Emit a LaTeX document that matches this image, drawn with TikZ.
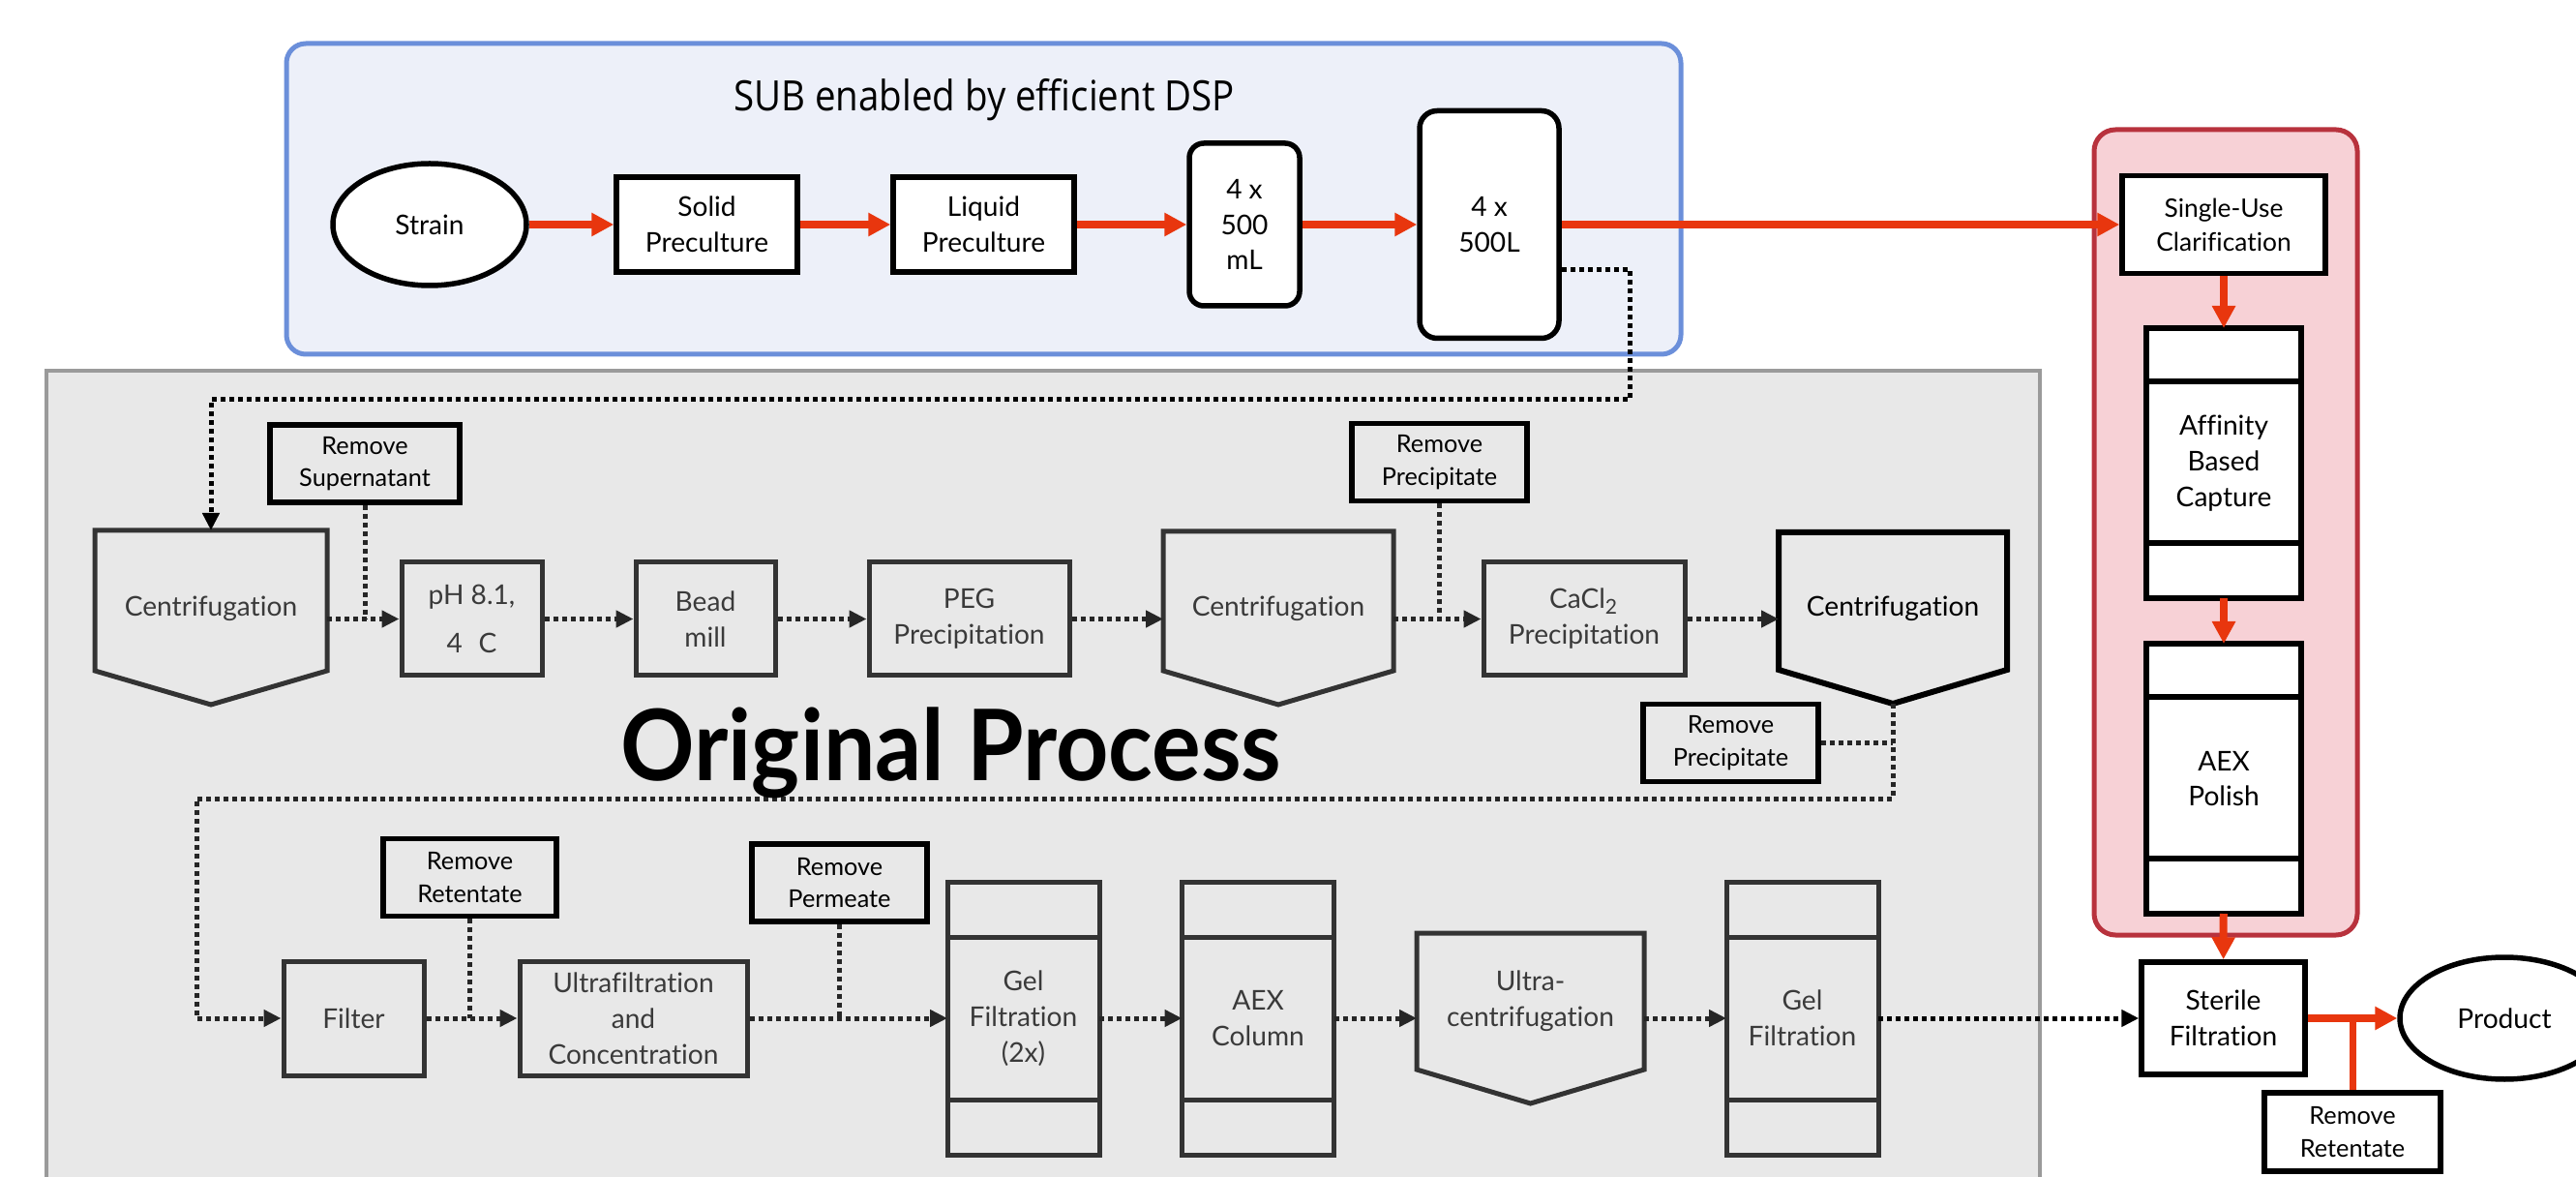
\documentclass[tikz,border=0pt]{standalone}
\usepackage{fontspec}
\setmainfont{Lato}[Ligatures=NoCommon]
\newfontfamily\headfont[FakeStretch=0.89]{Open Sans}
\newfontfamily\bannerfont[FakeStretch=0.93, Ligatures=NoCommon]{Lato}
\usepackage{tikz}
\usetikzlibrary{shapes.geometric, arrows.meta, calc}
\usepackage{xcolor}
\definecolor{SubBlue}{HTML}{6B8FDA}
\definecolor{SubFill}{HTML}{EDF0F9}
\definecolor{PolishRed}{HTML}{B8323D}
\definecolor{PolishFill}{HTML}{F7D1D6}
\definecolor{ProcGray}{HTML}{9A9A9A}
\definecolor{ProcFill}{HTML}{E8E8E8}
\definecolor{ProcLine}{HTML}{333333}
\definecolor{ProcText}{HTML}{3A3A3A}
\definecolor{DotLine}{HTML}{262626}
\definecolor{FlowRed}{HTML}{E8360E}

% pointed centrifuge outline drawn round a plain node
\newcommand{\chevronoutline}[2]{%
    \draw[#1, line join=miter] (#2.north west) -- (#2.north east) -- (#2.south east)
        -- ([yshift=-0.35cm]#2.south) coordinate (#2-tip) -- (#2.south west) -- cycle;}

\tikzset{
    % Zones
    subzone/.style={
        draw=SubBlue,
        fill=SubFill,
        line width=0.05cm,
        rounded corners=0.2cm
    },
    origzone/.style={
        draw=ProcGray,
        fill=ProcFill,
        line width=0.045cm
    },
    polishzone/.style={
        draw=PolishRed,
        fill=PolishFill,
        line width=0.05cm,
        rounded corners=0.22cm
    },
    % Box styles
    subbox/.style={
        rectangle,
        draw=black,
        fill=white,
        line width=0.055cm,
        inner sep=0pt,
        align=center,
        font=\fontsize{8}{10.5}\selectfont
    },
    bioreactor/.style={
        subbox,
        rounded corners=0.18cm
    },
    strainnode/.style={
        ellipse,
        draw=black,
        fill=white,
        line width=0.055cm,
        inner sep=0pt,
        minimum width=2cm,
        minimum height=1.26cm,
        font=\fontsize{8}{10.5}\selectfont
    },
    dspcolumn/.style={
        subbox,
        outer sep=0pt,
        minimum width=1.6cm,
        minimum height=2.79cm
    },
    procbox/.style={
        rectangle,
        draw=ProcLine,
        line width=0.05cm,
        inner sep=0pt,
        align=center,
        text=ProcText,
        font=\fontsize{8}{10.5}\selectfont
    },
    column/.style={
        procbox,
        outer sep=0pt,
        minimum width=1.57cm,
        minimum height=2.82cm
    },
    centri/.style={
        rectangle,
        inner sep=0pt,
        outer sep=0pt,
        align=center,
        text=ProcText,
        minimum width=2.38cm,
        minimum height=1.44cm,
        font=\fontsize{8}{10.5}\selectfont
    },
    centrilabel/.style={
        text height=0.9em,
        text depth=0pt
    },
    removebox/.style={
        rectangle,
        draw=black,
        line width=0.055cm,
        inner sep=0pt,
        align=center,
        minimum width=1.81cm,
        minimum height=0.8cm,
        font=\fontsize{7.2}{9.6}\selectfont
    },
    procline/.style={
        draw=ProcLine,
        line width=0.05cm
    },
    % Arrow styles
    redflow/.style={
        ->,
        >={Triangle[length=0.23cm,width=0.23cm]},
        line width=0.08cm,
        draw=FlowRed
    },
    redline/.style={
        line width=0.07cm,
        draw=FlowRed
    },
    dotflow/.style={
        ->,
        >={Triangle[length=0.18cm,width=0.17cm]},
        line width=0.05cm,
        draw=DotLine,
        dash pattern=on 0.05cm off 0.04cm
    },
    sidedot/.style={
        line width=0.05cm,
        draw=DotLine,
        dash pattern=on 0.05cm off 0.04cm
    }
}

\begin{document}
\begin{tikzpicture}
    \useasboundingbox (0,0) rectangle (26.62,12.15);

    % zones
    \draw[origzone] (0.48,-0.5) rectangle (21.08,8.32);
    \draw[subzone] (2.96,8.49) rectangle (17.37,11.70);
    \draw[polishzone] (21.64,2.49) rectangle (24.36,10.81);

    % single-use seed train
    \node[font=\headfont\fontsize{12.3}{14}\selectfont, anchor=base] (subhead) at (10.17,11.00) {SUB enabled by efficient DSP};
    \node[strainnode] (strain) at (4.44,9.83) {Strain};
    \node[subbox, minimum width=1.87cm, minimum height=0.98cm] (solid) at (7.305,9.83) {Solid\\Preculture};
    \node[subbox, minimum width=1.87cm, minimum height=0.98cm] (liquid) at (10.165,9.83) {Liquid\\Preculture};
    \node[bioreactor, rounded corners=0.15cm, minimum width=1.14cm, minimum height=1.68cm] (ml500) at (12.86,9.83) {4 x\\500\\mL};
    \node[bioreactor, minimum width=1.44cm, minimum height=2.35cm] (l500) at (15.39,9.83) {4 x\\500L};

    % downstream train
    \node[subbox, minimum width=2.1cm, minimum height=1.01cm, font=\fontsize{7.5}{10}\selectfont] (suc) at (22.98,9.83) {Single-Use\\Clarification};
    \node[dspcolumn] (aff) at (22.98,7.365) {Affinity\\Based\\Capture};
    \node[dspcolumn] (aexp) at (22.98,4.105) {AEX\\Polish};
    \node[subbox, minimum width=1.69cm, minimum height=1.16cm] (sterile) at (22.975,1.63) {Sterile\\Filtration};
    \node[strainnode, minimum width=2.16cm, minimum height=1.26cm] (product) at (25.88,1.63) {Product};
    \node[removebox, fill=white, minimum width=1.82cm, minimum height=0.81cm] (remret2) at (24.31,0.455) {Remove\\Retentate};

    % original process, first row
    \node[centri, centrilabel, minimum width=2.4cm, minimum height=1.45cm] (c1) at (2.18,5.945) {Centrifugation};
    \node[procbox, minimum width=1.45cm, minimum height=1.17cm, font=\fontsize{8}{14.2}\selectfont] (ph) at (4.875,5.755) {pH 8.1,\\4\hspace{0.6em}C};
    \node[procbox, minimum width=1.44cm, minimum height=1.17cm] (bead) at (7.29,5.755) {Bead\\mill};
    \node[procbox, minimum width=2.07cm, minimum height=1.17cm] (peg) at (10.015,5.755) {PEG\\Precipitation};
    \node[centri, centrilabel] (c2) at (13.21,5.94) {Centrifugation};
    \node[procbox, minimum width=2.08cm, minimum height=1.17cm] (cacl) at (16.37,5.755) {CaCl\textsubscript{2}\\Precipitation};
    \node[centri, centrilabel, text=black, minimum width=2.36cm, minimum height=1.42cm] (c3) at (19.56,5.94) {Centrifugation};
    \node[removebox, minimum width=1.96cm] (remsup) at (3.77,7.36) {Remove\\Supernatant};
    \node[removebox] (remprec1) at (14.875,7.375) {Remove\\Precipitate};
    \node[removebox] (remprec2) at (17.885,4.475) {Remove\\Precipitate};

    % original process, second row
    \node[procbox, minimum width=1.45cm, minimum height=1.18cm] (filter) at (3.655,1.63) {Filter};
    \node[procbox, minimum width=2.35cm, minimum height=1.18cm] (uf) at (6.545,1.63) {Ultrafiltration\\and\\Concentration};
    \node[removebox, minimum width=1.79cm] (remret) at (4.855,3.085) {Remove\\Retentate};
    \node[removebox] (remperm) at (8.675,3.03) {Remove\\Permeate};
    \node[column] (gel2) at (10.575,1.63) {Gel\\Filtration\\(2x)};
    \node[column] (aexc) at (13.0,1.63) {AEX\\Column};
    \node[centri, minimum width=2.35cm, minimum height=1.41cm] (uc) at (15.815,1.805) {Ultra-\\centrifugation};
    \node[column] (gelf) at (18.625,1.63) {Gel\\Filtration};

    % centrifuge outlines and column bands
    \foreach \n in {c1, c2, uc}
        \chevronoutline{procline}{\n};
    \chevronoutline{draw=black, line width=0.06cm}{c3};
    \foreach \n in {gel2, aexc, gelf} {
        \draw[procline] ([yshift=-0.57cm]\n.north west) -- ([yshift=-0.57cm]\n.north east);
        \draw[procline] ([yshift=0.57cm]\n.south west) -- ([yshift=0.57cm]\n.south east);
    }
    \foreach \n in {aff, aexp} {
        \draw[line width=0.055cm] ([yshift=-0.55cm]\n.north west) -- ([yshift=-0.55cm]\n.north east);
        \draw[line width=0.055cm] ([yshift=0.57cm]\n.south west) -- ([yshift=0.57cm]\n.south east);
    }

    % single-use flow
    \draw[redflow] (strain) -- (solid);
    \draw[redflow] (solid) -- (liquid);
    \draw[redflow] (liquid) -- (ml500);
    \draw[redflow] (ml500) -- (l500);
    \draw[redflow] (l500) -- (suc);
    \draw[redflow] (suc) -- (aff);
    \draw[redflow] (aff) -- (aexp);
    \draw[redflow] (aexp) -- (sterile);
    \draw[redflow] (sterile) -- (product);
    \draw[redline] (remret2) -- (remret2 |- sterile);

    % original flow
    \coordinate (bendA) at (16.84,8.02);
    \coordinate (bendC) at (2.03,3.90);
    \draw[dotflow, draw=black] ([yshift=-0.465cm]l500.east) -| (bendA) -| (c1.north);
    \draw[dotflow] (c1.east |- ph) -- (ph);
    \draw[sidedot] (remsup) -- (remsup |- ph);
    \draw[dotflow] (ph) -- (bead);
    \draw[dotflow] (bead) -- (peg);
    \draw[dotflow] (peg) -- (c2.west |- peg);
    \draw[dotflow] (c2.east |- cacl) -- (cacl);
    \draw[sidedot] (remprec1) -- (remprec1 |- cacl);
    \draw[dotflow] (cacl) -- (c3.west |- cacl);
    \draw[dotflow] (c3-tip) |- (bendC) |- (filter);
    \draw[sidedot] (remprec2) -- (remprec2 -| c3-tip);
    \draw[dotflow] (filter) -- (uf);
    \draw[sidedot] (remret) -- (remret |- uf);
    \draw[dotflow] (uf) -- (gel2);
    \draw[sidedot] (remperm) -- (remperm |- gel2);
    \draw[dotflow] (gel2) -- (aexc);
    \draw[dotflow] (aexc) -- (uc.west |- aexc);
    \draw[dotflow] (uc.east |- gelf) -- (gelf);
    \draw[dotflow, draw=black] (gelf) -- (sterile);

    \node[font=\bannerfont\bfseries\fontsize{29}{32}\selectfont, anchor=base] (banner) at (9.83,4.09) {Original Process};
\end{tikzpicture}
\end{document}
